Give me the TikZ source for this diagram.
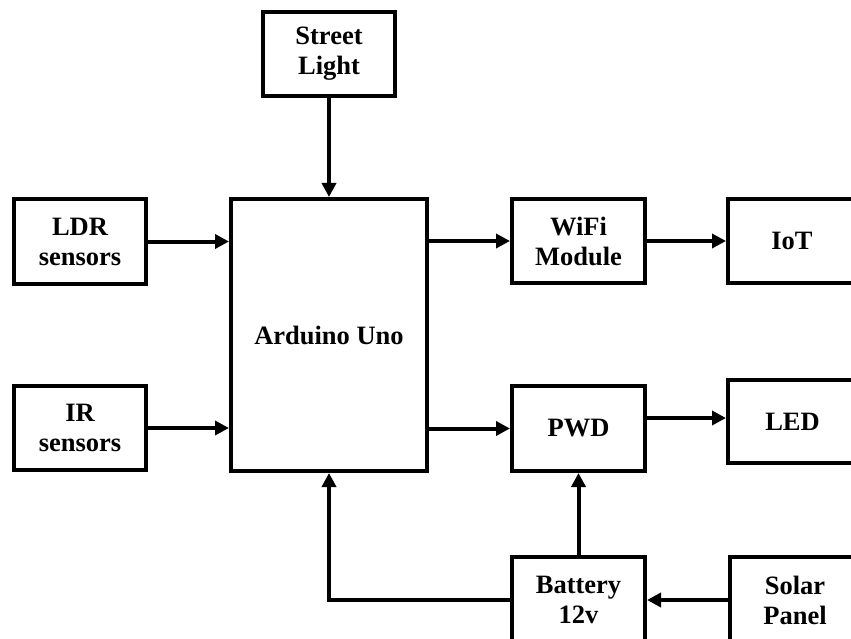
\documentclass[tikz,border=0pt]{standalone}
\usepackage{fontspec}
\setmainfont{Liberation Serif}
\usetikzlibrary{arrows.meta}
\begin{document}
\begin{tikzpicture}[x=1pt,y=-1pt,
  blk/.style={draw, line width=4pt, inner sep=0pt, align=center,
    font=\bfseries\fontsize{26.5}{30}\selectfont},
  conn/.style={line width=4pt, -{Triangle[length=14pt,width=14pt]}},
  wire/.style={line width=4pt}]
\useasboundingbox (0,0) rectangle (851,639);
\fill[white] (0,0) rectangle (851,639);
\node[blk, minimum width=132pt, minimum height=84pt] (street) at (329,54) {Street\\Light};
\node[blk, minimum width=132pt, minimum height=85pt] (ldr) at (80,241.5) {LDR\\sensors};
\node[blk, minimum width=196pt, minimum height=272pt] (ard) at (329,335) {Arduino Uno};
\node[blk, minimum width=133pt, minimum height=84pt] (wifi) at (578.5,241) {WiFi\\Module};
\node[blk, minimum width=128pt, minimum height=84pt] (iot) at (792,241) {IoT};
\node[blk, minimum width=132pt, minimum height=84pt] (ir) at (80,428) {IR\\sensors};
\node[blk, minimum width=133pt, minimum height=85pt] (pwd) at (578.5,428.5) {PWD};
\node[blk, minimum width=129pt, minimum height=83pt] (led) at (792.5,421.5) {LED};
\node[blk, minimum width=133pt, minimum height=86pt] (bat) at (578.5,600) {Battery\\12v};
\node[blk, minimum width=130pt, minimum height=86pt] (solar) at (795,600) {Solar\\Panel};
\draw[conn] (street.south) -- (ard.north);
\draw[conn] (ldr.east) -- (ldr.east -| ard.west);
\draw[conn] (ir.east) -- (ir.east -| ard.west);
\draw[conn] (wifi.west -| ard.east) -- (wifi.west);
\draw[conn] (wifi.east) -- (iot.west);
\draw[conn] (pwd.west -| ard.east) -- (pwd.west);
\draw[conn] ([yshift=3.5pt]led.west -| pwd.east) -- ([yshift=3.5pt]led.west);
\draw[conn] (solar.west) -- (bat.east);
\draw[conn] (bat.north) -- (pwd.south);
\draw[conn] (bat.west) -- (bat.west -| ard.south) -- (ard.south);
\end{tikzpicture}
\end{document}
